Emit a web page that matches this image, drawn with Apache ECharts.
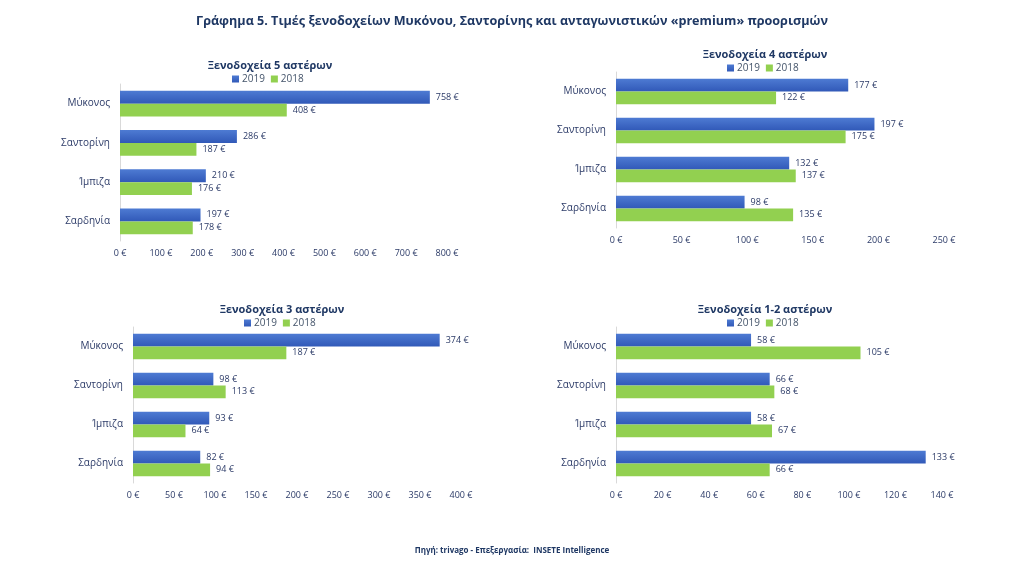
<!DOCTYPE html>
<html><head><meta charset="utf-8">
<script src="https://cdn.jsdelivr.net/npm/echarts@6/dist/echarts.min.js"></script>
<style>html,body{margin:0;padding:0;background:#fff}#c{width:1024px;height:576px}</style>
</head><body><div id="c"></div>
<script>
const categories = ['Μύκονος','Σαντορίνη','Ίμπιζα','Σαρδηνία'];
const seriesNames = ['2019','2018'];
const panelTitles = ['Ξενοδοχεία 5 αστέρων','Ξενοδοχεία 4 αστέρων','Ξενοδοχεία 3 αστέρων','Ξενοδοχεία 1-2 αστέρων'];
const stars5_2019 = [758,286,210,197];
const stars5_2018 = [408,187,176,178];
const stars4_2019 = [177,197,132,98];
const stars4_2018 = [122,175,137,135];
const stars3_2019 = [374,98,93,82];
const stars3_2018 = [187,113,64,94];
const stars12_2019 = [58,66,58,133];
const stars12_2018 = [105,68,67,66];
const axisMax = [800,250,400,140];
const axisStep = [100,50,50,20];

const mainTitle = 'Γράφημα 5. Τιμές ξενοδοχείων Μυκόνου, Σαντορίνης και ανταγωνιστικών «premium» προορισμών';
const footer = 'Πηγή: trivago - Επεξεργασία:  INSETE Intelligence';

const panels = [[stars5_2019,stars5_2018],[stars4_2019,stars4_2018],[stars3_2019,stars3_2018],[stars12_2019,stars12_2018]];
const grids = [
  {left:120, top:84, width:327, height:157},
  {left:616, top:72, width:328, height:156},
  {left:133, top:327, width:328, height:156},
  {left:616, top:327, width:326, height:156}
];
const titleY = [55, 44, 299, 299];
const legendY = [69, 58, 313, 313];
const centerX = [265, 760, 277, 760];
const legendLeft = [227, 722, 239, 722];

const FONT = 'Open Sans';
const NAVY = '#1F3864';
const TXT = '#2B3A67';
const blue = new echarts.graphic.LinearGradient(0,0,0,1,[{offset:0,color:'#4E7BD3'},{offset:1,color:'#3159B8'}]);
const green = '#92D050';

const title = [{text: mainTitle, left:'center', top:10, textStyle:{fontFamily:FONT, fontSize:12.6, fontWeight:'bold', color:NAVY}},
  {text: footer, left:'center', top:542, textStyle:{fontFamily:FONT, fontSize:8, fontWeight:'bold', color:NAVY}}];
const legend = [];
const xAxis = [], yAxis = [], series = [];
panels.forEach((p,i)=>{
  title.push({text: panelTitles[i], left: centerX[i], top: titleY[i], textAlign:'center',
    textStyle:{fontFamily:FONT, fontSize:11, fontWeight:'bold', color:NAVY}});
  legend.push({data: seriesNames, left: legendLeft[i], top: legendY[i], itemWidth:7, itemHeight:7, itemGap:6,
    icon:'rect', textStyle:{fontFamily:FONT, fontSize:10, color:'#44546A', padding:[0,0,0,-2]}});
  xAxis.push({type:'value', gridIndex:i, min:0, max:axisMax[i], interval:axisStep[i],
    splitLine:{show:false}, axisLine:{show:false}, axisTick:{show:false},
    axisLabel:{formatter:'{value} €', fontFamily:FONT, fontSize:9, color:TXT, margin:8}});
  yAxis.push({type:'category', gridIndex:i, data: categories, inverse:true,
    axisLine:{show:true, lineStyle:{color:'#D9D9D9'}}, axisTick:{show:false},
    axisLabel:{fontFamily:FONT, fontSize:10, color:TXT, margin:10}});
  p.forEach((vals,s)=>{
    series.push({type:'bar', name: seriesNames[s], xAxisIndex:i, yAxisIndex:i, data: vals,
      barGap:'0%', barCategoryGap:'34%',
      itemStyle:{color: s===0 ? blue : green},
      label:{show:true, position:'right', formatter:'{c} €', fontFamily:FONT, fontSize:9, color:TXT, distance:6}});
  });
});
const chart = echarts.init(document.getElementById('c'));
chart.setOption({animation:false, color:['#3E64C3', green], title, legend, grid: grids, xAxis, yAxis, series});
</script></body></html>
